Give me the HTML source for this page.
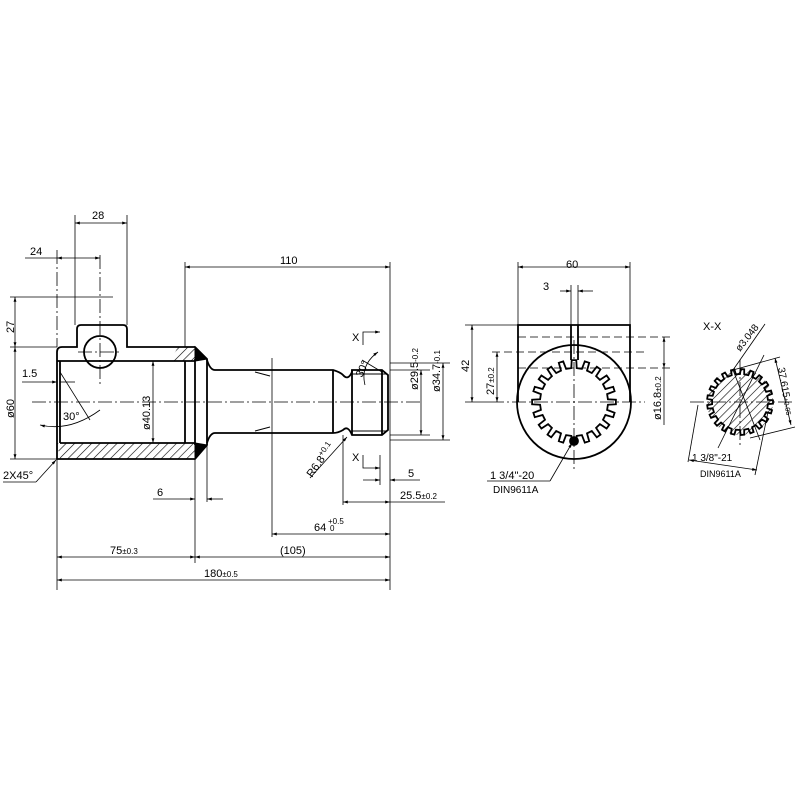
<!DOCTYPE html>
<html><head><style>
html,body{margin:0;padding:0;background:#fff;width:800px;height:800px;overflow:hidden}
svg text{font-family:"Liberation Sans",sans-serif;fill:#000}
</style></head><body>
<svg id="s" width="800" height="800" viewBox="0 0 800 800" xmlns="http://www.w3.org/2000/svg">
<defs>
<marker id="a" viewBox="0 0 10 10" refX="10" refY="5" markerWidth="8" markerHeight="6" orient="auto-start-reverse"><path d="M0,2 L10,5 L0,8 z" fill="#000"/></marker>
<pattern id="h" width="6" height="6" patternUnits="userSpaceOnUse" patternTransform="rotate(45)"><line x1="0" y1="0" x2="0" y2="6" stroke="#000" stroke-width="1.2"/></pattern>
<clipPath id="cx"><circle cx="740" cy="402" r="33"/></clipPath>
</defs>
<g fill="none" stroke="#000" stroke-width="1">
<g stroke-dasharray="14,3,2,3" stroke-width="0.8">
<line x1="32" y1="402" x2="420" y2="402"/>
<line x1="57" y1="250" x2="57" y2="347"/>
<line x1="100" y1="255" x2="100" y2="385"/>
<line x1="78" y1="352" x2="122" y2="352"/>
<line x1="490" y1="402" x2="645" y2="402"/>
<line x1="574" y1="340" x2="574" y2="470"/>
<line x1="690" y1="402" x2="795" y2="402"/>
<line x1="740" y1="360" x2="740" y2="445"/>
</g>
<g stroke-width="1.8">
<path d="M57,459 L57,352 Q57,347 62,347 L77,347 L77,329 Q77,325 81,325 L123,325 Q127,325 127,329 L127,347 L195,347 L207,359 L207,445 L195,459 Z"/>
<line x1="57" y1="361" x2="195" y2="361"/>
<line x1="60" y1="443" x2="195" y2="443"/>
<line x1="60" y1="361" x2="60" y2="443"/>
<line x1="185" y1="361" x2="185" y2="443"/>
<line x1="195" y1="359" x2="195" y2="445"/>
<circle cx="100" cy="352" r="16"/>
<path d="M207,360 Q210,370 215,370 L333,370 Q340,372 343,375 Q348,381 352,372 L352,370 L382,370 L388,375 L388,430 L382,435 L352,435 Q348,425 343,430 Q338,433 333,433 L215,433 Q210,433 207,443"/>
<line x1="333" y1="370" x2="333" y2="433"/>
<line x1="352" y1="370" x2="352" y2="435"/>
<line x1="382" y1="370" x2="382" y2="435"/>
</g>
<line x1="352" y1="374" x2="386" y2="374"/><line x1="352" y1="431" x2="386" y2="431"/>
<path d="M170,361 L178,347 L195,347 L195,361 Z" fill="url(#h)" stroke="none"/>
<path d="M57,443 L195,443 L195,459 L60,459 Z" fill="url(#h)" stroke="none"/>
<path d="M195,347 L207,359 L195,361Z M195,459 L207,445 L195,443Z" fill="#000"/>
<line x1="255" y1="372" x2="270" y2="376"/><line x1="255" y1="431" x2="270" y2="427"/>
<g stroke-width="0.8">
<line x1="75" y1="215" x2="75" y2="325"/><line x1="127" y1="215" x2="127" y2="325"/>
<line x1="75" y1="223" x2="127" y2="223" marker-start="url(#a)" marker-end="url(#a)"/>
<line x1="25" y1="258" x2="57" y2="258"/><line x1="57" y1="258" x2="100" y2="258" marker-start="url(#a)" marker-end="url(#a)"/>
<line x1="185" y1="262" x2="185" y2="347"/><line x1="390" y1="262" x2="390" y2="590"/>
<line x1="185" y1="267" x2="390" y2="267" marker-start="url(#a)" marker-end="url(#a)"/>
<line x1="10" y1="297" x2="113" y2="297"/><line x1="10" y1="347" x2="57" y2="347"/>
<line x1="15" y1="297" x2="15" y2="347" marker-start="url(#a)" marker-end="url(#a)"/>
<line x1="10" y1="459" x2="57" y2="459"/>
<line x1="15" y1="347" x2="15" y2="459" marker-start="url(#a)" marker-end="url(#a)"/>
<line x1="22" y1="382" x2="57" y2="382" marker-end="url(#a)"/><line x1="60" y1="382" x2="75" y2="382"/>
<line x1="60" y1="372" x2="90" y2="420"/>
<path d="M40,425 Q70,432 100,410" marker-start="url(#a)"/>
<line x1="153" y1="361" x2="153" y2="443" marker-start="url(#a)" marker-end="url(#a)"/>
<line x1="3" y1="482" x2="36" y2="482"/><line x1="36" y1="482" x2="56" y2="460" marker-end="url(#a)"/>
<line x1="57" y1="459" x2="57" y2="590"/><line x1="195" y1="459" x2="195" y2="563"/><line x1="207" y1="445" x2="207" y2="502"/>
<line x1="153" y1="499" x2="195" y2="499" marker-end="url(#a)"/><line x1="207" y1="499" x2="223" y2="499" marker-start="url(#a)"/>
<line x1="343" y1="435" x2="343" y2="505"/>
<line x1="343" y1="502" x2="390" y2="502" marker-start="url(#a)" marker-end="url(#a)"/><line x1="390" y1="502" x2="445" y2="502"/>
<line x1="272" y1="358" x2="272" y2="537"/>
<line x1="272" y1="534" x2="390" y2="534" marker-start="url(#a)" marker-end="url(#a)"/>
<line x1="57" y1="557" x2="195" y2="557" marker-start="url(#a)" marker-end="url(#a)"/>
<line x1="195" y1="557" x2="390" y2="557" marker-start="url(#a)" marker-end="url(#a)"/>
<line x1="57" y1="580" x2="390" y2="580" marker-start="url(#a)" marker-end="url(#a)"/>
<line x1="363" y1="480" x2="380" y2="480" marker-end="url(#a)"/><line x1="390" y1="480" x2="420" y2="480" marker-start="url(#a)"/>
<line x1="380" y1="455" x2="380" y2="485"/>
<path d="M363,345 L363,332 L380,332" marker-end="url(#a)"/>
<path d="M363,455 L363,468 L380,468" marker-end="url(#a)"/>
<line x1="310" y1="478" x2="347" y2="437" marker-end="url(#a)"/>
<path d="M378,352 Q360,365 365,385" marker-start="url(#a)"/>
<line x1="362" y1="360" x2="382" y2="372"/>
<line x1="390" y1="370" x2="430" y2="370"/><line x1="390" y1="435" x2="430" y2="435"/>
<line x1="390" y1="363" x2="450" y2="363"/><line x1="390" y1="440" x2="450" y2="440"/>
<line x1="421" y1="370" x2="421" y2="435" marker-start="url(#a)" marker-end="url(#a)"/>
<line x1="443" y1="363" x2="443" y2="440" marker-start="url(#a)" marker-end="url(#a)"/>
</g>
<g stroke-width="1.8">
<path d="M518,402 L518,325 L630,325 L630,402"/>
<circle cx="574" cy="402" r="57"/>
<path id="sp1"/>
<path d="M571,325 L571,360 M578,325 L578,360"/>
<circle cx="574" cy="441" r="4" fill="#000"/>
</g>
<g stroke-width="0.8">
<g stroke-dasharray="8,4"><line x1="518" y1="337" x2="670" y2="337"/><line x1="492" y1="352" x2="645" y2="352"/><line x1="518" y1="368" x2="670" y2="368"/></g>
<line x1="518" y1="262" x2="518" y2="325"/><line x1="630" y1="262" x2="630" y2="325"/>
<line x1="518" y1="267" x2="630" y2="267" marker-start="url(#a)" marker-end="url(#a)"/>
<line x1="560" y1="291" x2="571" y2="291" marker-end="url(#a)"/><line x1="578" y1="291" x2="593" y2="291" marker-start="url(#a)"/>
<line x1="571" y1="285" x2="571" y2="325"/><line x1="578" y1="285" x2="578" y2="325"/>
<line x1="465" y1="325" x2="518" y2="325"/><line x1="465" y1="402" x2="490" y2="402"/>
<line x1="472" y1="325" x2="472" y2="402" marker-start="url(#a)" marker-end="url(#a)"/>
<line x1="497" y1="352" x2="497" y2="402" marker-start="url(#a)" marker-end="url(#a)"/>
<line x1="664" y1="337" x2="664" y2="368" marker-start="url(#a)" marker-end="url(#a)"/><line x1="664" y1="368" x2="664" y2="425"/>
<line x1="487" y1="481" x2="550" y2="481"/><line x1="550" y1="481" x2="572" y2="443" marker-end="url(#a)"/>
</g>
<g clip-path="url(#cx)"><rect x="700" y="360" width="80" height="90" fill="url(#h)" stroke="none"/></g>
<path id="sp2" stroke-width="1.8" fill="none"/>
<g stroke-width="0.8">
<line x1="718" y1="448" x2="764" y2="355"/>
<line x1="733" y1="370" x2="760" y2="440"/>
<line x1="733" y1="370" x2="780" y2="357"/><line x1="750" y1="438" x2="795" y2="427"/>
<line x1="775" y1="358" x2="791" y2="425" marker-start="url(#a)" marker-end="url(#a)"/>
<line x1="733" y1="370" x2="765" y2="324"/>
<line x1="698" y1="405" x2="688" y2="462"/><line x1="768" y1="412" x2="755" y2="475"/>
<line x1="689" y1="460" x2="757" y2="470" marker-start="url(#a)" marker-end="url(#a)"/>
</g>
</g>
<g font-size="11">
<text x="92" y="219">28</text>
<text x="30" y="255">24</text>
<text x="280" y="264">110</text>
<text x="22" y="377">1.5</text>
<text x="63" y="420">30°</text>
<text x="3" y="479">2X45°</text>
<text x="157" y="496">6</text>
<text x="408" y="477">5</text>
<text x="400" y="499">25.5<tspan font-size="8">±0.2</tspan></text>
<text x="314" y="531">64</text><text x="328" y="524" font-size="8">+0.5</text><text x="330" y="531" font-size="8">0</text>
<text x="110" y="554">75<tspan font-size="8">±0.3</tspan></text>
<text x="280" y="554">(105)</text>
<text x="204" y="577">180<tspan font-size="8">±0.5</tspan></text>
<text x="352" y="341">X</text><text x="352" y="461">X</text>
<text transform="translate(14,333) rotate(-90)">27</text>
<text transform="translate(14,418) rotate(-90)">ø60</text>
<text transform="translate(150,430) rotate(-90)">ø40.13</text>
<text transform="translate(418,390) rotate(-90)">ø29.5<tspan font-size="8">-0.2</tspan></text>
<text transform="translate(440,392) rotate(-90)">ø34.7<tspan font-size="8">-0.1</tspan></text>
<text transform="translate(312,478) rotate(-55)">R6.8<tspan font-size="8" dy="-4">+0.1</tspan></text>
<text transform="translate(362,378) rotate(-65)">30°</text>
<text x="566" y="268">60</text>
<text x="543" y="290">3</text>
<text transform="translate(469,372) rotate(-90)">42</text>
<text transform="translate(494,395) rotate(-90)">27<tspan font-size="8">±0.2</tspan></text>
<text transform="translate(661,420) rotate(-90)">ø16.8<tspan font-size="8">±0.2</tspan></text>
<text x="490" y="479">1 3/4"-20</text>
<text x="493" y="493" font-size="10">DIN9611A</text>
<text x="703" y="330">X-X</text>
<text transform="translate(740,352) rotate(-52)" font-size="10">ø3.048</text>
<text transform="translate(778,368) rotate(80)" font-size="10">37.615<tspan font-size="7">+0.05</tspan></text>
<text x="692" y="461" font-size="10">1 3/8"-21</text>
<text x="700" y="477" font-size="9">DIN9611A</text>
</g>
</svg>
<script>
function sp(cx,cy,ro,ri,n){let d='';for(let i=0;i<n;i++){const a=2*Math.PI*i/n,s=Math.PI/n;const pts=[[ri,a-s*0.5],[ro,a-s*0.35],[ro,a+s*0.35],[ri,a+s*0.5],[ri,a+s*1.5]];pts.forEach((p,j)=>{const x=cx+p[0]*Math.cos(p[1]),y=cy+p[0]*Math.sin(p[1]);d+=(i==0&&j==0?'M':'L')+x.toFixed(1)+','+y.toFixed(1)+' ';});}return d+'Z';}
document.getElementById('sp1').setAttribute('d',sp(574,402,42,34,20));
document.getElementById('sp2').setAttribute('d',sp(740,402,33,28,21));
</script>
</body></html>
